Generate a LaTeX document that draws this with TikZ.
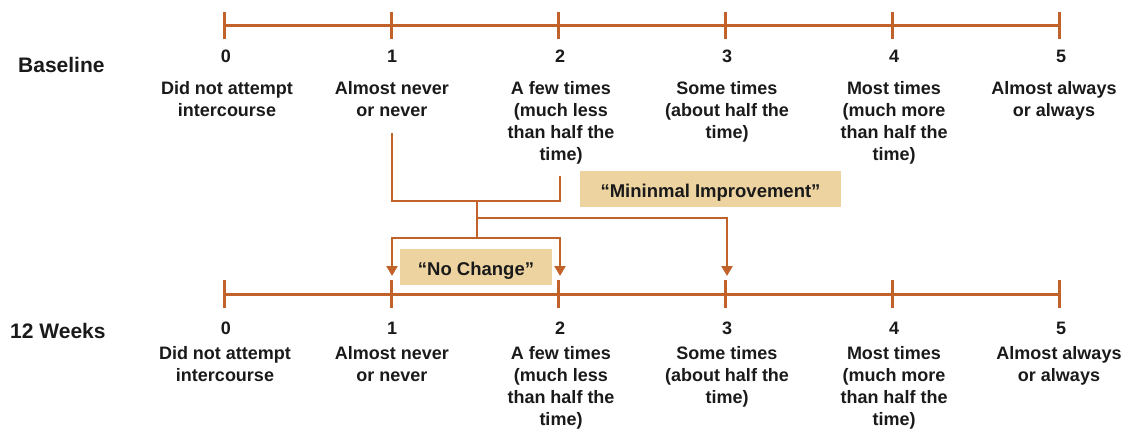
\documentclass[tikz,border=0pt]{standalone}
\usepackage{fontspec}
\setmainfont{Liberation Sans}
\usetikzlibrary{arrows.meta}
\definecolor{rust}{HTML}{C2622B}
\definecolor{tan}{HTML}{EDD3A0}
\definecolor{ink}{HTML}{1A1A1A}
\tikzset{
  scaleline/.style={draw=rust, line width=3pt},
  tickmark/.style={draw=rust, line width=3pt},
  conn/.style={draw=rust, line width=2.6pt},
  connarrow/.style={conn, -{Triangle[length=10pt,width=11pt]}},
  numlabel/.style={font=\bfseries\fontsize{18}{22}\selectfont, text=ink, anchor=base, inner sep=0pt},
  desclabel/.style={font=\bfseries\fontsize{18}{22}\selectfont, text=ink, anchor=north, inner sep=0pt, align=center},
  rowlabel/.style={font=\bfseries\fontsize{21}{24}\selectfont, text=ink, anchor=base west, inner sep=0pt},
  tagbox/.style={fill=tan, font=\bfseries\fontsize{18.5}{22}\selectfont, text=ink, inner sep=0pt, text height=17pt, text depth=0pt, minimum height=36pt}
}
\newcommand{\fl}{\rule{0pt}{14pt}}
\begin{document}
\begin{tikzpicture}[x=1pt,y=-1pt]
\useasboundingbox (0,0) rectangle (1131,430);
% scale positions
\foreach \i/\x in {0/224,1/391,2/558,3/725,4/892,5/1059}{
  \coordinate (t\i) at (\x,26);
  \coordinate (b\i) at (\x,294);
}
% scales
\draw[scaleline] (t0) -- (t5);
\draw[scaleline] (b0) -- (b5);
\foreach \i in {0,...,5}{
  \draw[tickmark] ([yshift=-13pt]t\i) -- ([yshift=14pt]t\i);
  \draw[tickmark] ([yshift=-14pt]b\i) -- ([yshift=14pt]b\i);
}
% row labels
\node[rowlabel] (baseline) at (18,73) {Baseline};
\node[rowlabel] (weeks) at (10,338) {12 Weeks};
% numbers
\foreach \i/\x in {0/226,1/392,2/560,3/727,4/894,5/1061}{
  \node[numlabel] (tn\i) at (\x,63) {\i};
  \node[numlabel] (bn\i) at (\x,334) {\i};
}
% top labels
\node[desclabel] (td0) at (227,80) {\fl Did not attempt\\intercourse};
\node[desclabel] (td1) at (392,80) {\fl Almost never\\or never};
\node[desclabel] (td2) at (561,80) {\fl A few times\\(much less\\than half the\\time)};
\node[desclabel] (td3) at (727,80) {\fl Some times\\(about half the\\time)};
\node[desclabel] (td4) at (894,80) {\fl Most times\\(much more\\than half the\\time)};
\node[desclabel] (td5) at (1054,80) {\fl Almost always\\or always};
% bottom labels
\node[desclabel] (bd0) at (225,345) {\fl Did not attempt\\intercourse};
\node[desclabel] (bd1) at (392,345) {\fl Almost never\\or never};
\node[desclabel] (bd2) at (561,345) {\fl A few times\\(much less\\than half the\\time)};
\node[desclabel] (bd3) at (727,345) {\fl Some times\\(about half the\\time)};
\node[desclabel] (bd4) at (894,345) {\fl Most times\\(much more\\than half the\\time)};
\node[desclabel] (bd5) at (1059,345) {\fl Almost always\\or always};
% tag boxes
\node[tagbox, minimum width=261pt] (minimal) at (710.5,189) {“Mininmal Improvement”};
\node[tagbox, minimum width=152pt] (nochange) at (476,267) {“No Change”};
% connectors
\coordinate (s1) at (392,133);
\coordinate (s2) at (560,176);
\coordinate (j) at (477,201);
\coordinate (k) at (477,218);
\coordinate (m) at (477,238);
\coordinate (e1) at (392,276);
\coordinate (e2) at (560,276);
\coordinate (e3) at (727,276);
\draw[conn] (s1) |- (j) -| (s2);
\draw[conn] (j) -- (m);
\draw[connarrow] (k) -| (e3);
\draw[connarrow] (m) -| (e1);
\draw[connarrow] (m) -| (e2);
\end{tikzpicture}
\end{document}
